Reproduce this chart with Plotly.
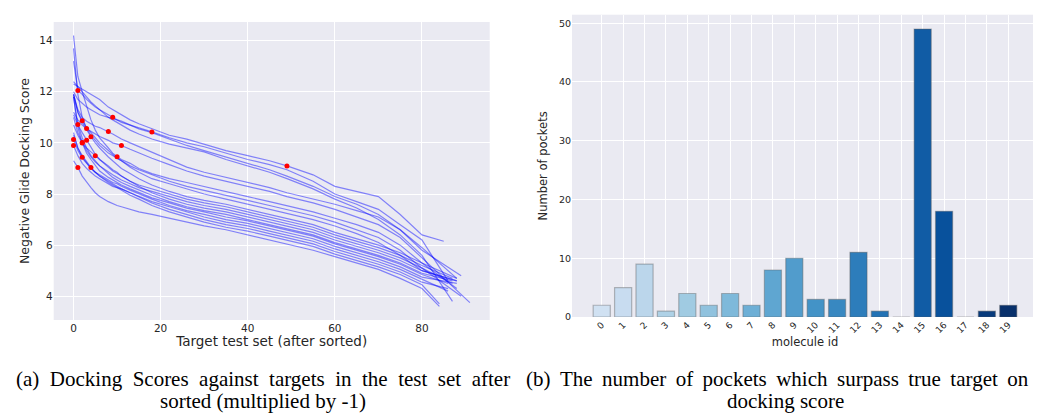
import plotly.graph_objects as go
from plotly.colors import sample_colorscale
import plotly.express as px

# ---------------- data: left panel (sorted docking scores, x -1) ----------------
grid_x = [0, 1, 2, 3, 4, 5, 6, 8, 9, 10, 11, 13, 15, 18, 22, 26, 30, 35, 40, 45, 49, 55, 60, 65, 70, 75, 80]

mol00 = [11.9, 11.2, 10.87, 10.6, 10.4, 10.2, 10.0, 9.7, 9.55, 9.4, 9.3, 9.05, 8.85, 8.6, 8.4, 8.2, 8.0, 7.8, 7.6, 7.4, 7.25, 7.0, 6.75, 6.45, 6.1, 5.6, 5.0]
mol01 = [10.7, 10.3, 10.0, 9.8, 9.65, 9.5, 9.35, 9.1, 8.95, 8.85, 8.7, 8.5, 8.3, 8.05, 7.8, 7.6, 7.45, 7.3, 7.1, 6.9, 6.75, 6.5, 6.2, 5.95, 5.7, 5.4, 5.0]
mol02 = [12.4, 12.2, 12.0, 11.8, 11.6, 11.45, 11.3, 11.1, 11.0, 10.9, 10.85, 10.7, 10.55, 10.4, 10.15, 9.9, 9.7, 9.45, 9.2, 8.95, 8.7, 8.3, 7.9, 7.6, 7.2, 6.6, 5.9]
mol03 = [13.2, 12.05, 11.9, 11.7, 11.55, 11.4, 11.3, 11.0, 10.9, 10.8, 10.7, 10.5, 10.35, 10.15, 9.95, 9.8, 9.65, 9.35, 9.1, 8.85, 8.6, 8.2, 7.8, 7.45, 7.0, 6.4, 5.6]
mol04 = [11.9, 11.2, 10.8, 10.5, 10.24, 10.0, 9.8, 9.45, 9.3, 9.15, 9.0, 8.8, 8.6, 8.35, 8.1, 7.9, 7.75, 7.6, 7.4, 7.2, 7.05, 6.8, 6.5, 6.25, 6.0, 5.7, 5.3]
mol05 = [11.0, 10.4, 10.02, 9.7, 9.45, 9.25, 9.1, 8.85, 8.75, 8.65, 8.55, 8.4, 8.25, 8.1, 7.9, 7.7, 7.55, 7.4, 7.2, 7.0, 6.85, 6.6, 6.3, 6.05, 5.8, 5.5, 5.1]
mol06 = [10.3, 9.8, 9.5, 9.25, 9.04, 8.85, 8.7, 8.45, 8.35, 8.25, 8.15, 7.95, 7.8, 7.55, 7.3, 7.1, 6.9, 6.7, 6.55, 6.35, 6.2, 5.95, 5.65, 5.4, 5.15, 4.85, 4.45]
mol07 = [11.8, 10.6, 10.0, 9.6, 9.35, 9.1, 8.9, 8.65, 8.55, 8.45, 8.35, 8.2, 8.05, 7.85, 7.65, 7.45, 7.3, 7.1, 6.95, 6.75, 6.6, 6.35, 6.05, 5.8, 5.55, 5.25, 4.85]
mol08 = [11.9, 11.3, 11.0, 10.85, 10.75, 10.65, 10.6, 10.45, 10.35, 10.25, 10.15, 10.0, 9.85, 9.65, 9.35, 9.05, 8.85, 8.65, 8.45, 8.25, 8.05, 7.8, 7.6, 7.35, 7.1, 6.6, 5.8]
mol09 = [14.2, 12.6, 12.0, 11.4, 10.9, 10.5, 10.2, 9.8, 9.6, 9.46, 9.35, 9.2, 9.0, 8.8, 8.6, 8.45, 8.3, 8.1, 7.9, 7.7, 7.55, 7.3, 7.05, 6.8, 6.5, 6.0, 5.3]
mol10 = [13.7, 11.9, 11.0, 10.56, 10.3, 10.1, 9.9, 9.6, 9.5, 9.4, 9.3, 9.1, 8.95, 8.75, 8.5, 8.3, 8.15, 7.95, 7.75, 7.55, 7.4, 7.15, 6.9, 6.6, 6.3, 5.8, 5.1]
mol11 = [11.1, 10.7, 10.4, 10.1, 9.8, 9.55, 9.35, 9.05, 8.9, 8.8, 8.7, 8.5, 8.35, 8.2, 8.0, 7.8, 7.65, 7.5, 7.3, 7.1, 6.95, 6.7, 6.4, 6.15, 5.9, 5.6, 5.2]
mol12 = [11.2, 10.9, 10.7, 10.55, 10.45, 10.35, 10.25, 10.1, 10.0, 9.95, 9.9, 9.75, 9.6, 9.4, 9.15, 8.9, 8.7, 8.5, 8.3, 8.1, 7.9, 7.65, 7.4, 7.1, 6.8, 6.3, 5.5]
mol13 = [11.8, 10.72, 10.2, 9.8, 9.5, 9.3, 9.1, 8.8, 8.65, 8.55, 8.45, 8.3, 8.15, 7.95, 7.7, 7.5, 7.35, 7.2, 7.0, 6.8, 6.65, 6.4, 6.1, 5.85, 5.6, 5.3, 4.9]
mol14 = [10.13, 9.7, 9.4, 9.2, 9.0, 8.85, 8.75, 8.55, 8.45, 8.4, 8.3, 8.15, 8.0, 7.8, 7.55, 7.35, 7.2, 7.0, 6.85, 6.65, 6.5, 6.25, 5.95, 5.7, 5.45, 5.15, 4.75]
mol15 = [12.3, 12.2, 12.1, 12.0, 11.9, 11.8, 11.7, 11.4, 11.3, 11.2, 11.1, 10.9, 10.75, 10.55, 10.3, 10.15, 9.95, 9.7, 9.5, 9.3, 9.1, 8.75, 8.3, 8.1, 7.9, 7.2, 6.4]
mol16 = [12.0, 11.7, 11.55, 11.4, 11.3, 11.2, 11.1, 11.0, 10.95, 10.9, 10.8, 10.7, 10.6, 10.43, 10.2, 10.0, 9.85, 9.6, 9.35, 9.15, 8.95, 8.5, 8.0, 7.7, 7.4, 6.8, 6.2]
mol17 = [9.9, 9.5, 9.2, 9.0, 8.85, 8.7, 8.6, 8.4, 8.3, 8.25, 8.2, 8.05, 7.9, 7.65, 7.4, 7.2, 7.0, 6.8, 6.65, 6.45, 6.3, 6.05, 5.75, 5.5, 5.25, 4.95, 4.55]
mol18 = [9.3, 9.04, 8.7, 8.45, 8.25, 8.05, 7.9, 7.7, 7.62, 7.55, 7.5, 7.4, 7.3, 7.2, 7.05, 6.9, 6.75, 6.6, 6.4, 6.2, 6.05, 5.8, 5.55, 5.3, 5.05, 4.7, 4.3]
mol19 = [10.4, 9.8, 9.44, 9.2, 9.0, 8.85, 8.7, 8.5, 8.4, 8.3, 8.2, 8.05, 7.9, 7.7, 7.5, 7.3, 7.1, 6.9, 6.75, 6.55, 6.4, 6.15, 5.85, 5.6, 5.35, 5.05, 4.65]

end_x = [88, 88, 88, 87, 88, 89, 84, 86, 89, 88, 87, 87, 91, 87, 88, 85, 86, 86, 84, 86]
end_y = [4.6, 4.6, 4.7, 3.8, 4.7, 4.0, 3.7, 4.5, 4.8, 4.3, 4.5, 4.7, 3.75, 4.6, 4.5, 6.15, 4.6, 4.3, 3.6, 4.2]

# ---------------- data: right panel ----------------
molecule_ids = list(range(20))
pockets = [2, 5, 9, 1, 4, 2, 4, 2, 8, 10, 3, 3, 11, 1, 0, 49, 18, 0, 1, 2]

caption_lines = [
    ("(a)\u2002Docking\u2002Scores\u2002against\u2002targets\u2002in\u2002the\u2002test\u2002set\u2002after", 255, 371),
    ("sorted (multiplied by -1)", 255, 393),
    ("(b) \u2009The \u2009number \u2009of \u2009pockets \u2009which \u2009surpass \u2009true \u2009target \u2009on", 769, 371),
    ("docking score", 777, 393),
]

lines = [mol00, mol01, mol02, mol03, mol04, mol05, mol06, mol07, mol08, mol09,
         mol10, mol11, mol12, mol13, mol14, mol15, mol16, mol17, mol18, mol19]

TXT = "#262626"
FONT = "DejaVu Sans"
W, H = 1041, 419

fig = go.Figure()

for i, ys in enumerate(lines):
    fig.add_trace(go.Scatter(
        x=grid_x + [end_x[i]], y=ys + [end_y[i]], mode="lines",
        line=dict(color="rgba(0,0,255,0.45)", width=1.2),
        xaxis="x", yaxis="y", showlegend=False, hoverinfo="skip"))

# red dots: rank of the true target (= pocket count) on each curve
dot_x = pockets
dot_y = [lines[i][grid_x.index(p)] for i, p in enumerate(pockets)]
fig.add_trace(go.Scatter(
    x=dot_x, y=dot_y, mode="markers",
    marker=dict(color="red", size=5, line=dict(width=0)),
    xaxis="x", yaxis="y", showlegend=False))

ts = [0.2 + 0.8 * i / 19 for i in molecule_ids]
bar_colors = sample_colorscale(px.colors.sequential.Blues, ts)
fig.add_trace(go.Bar(
    x=molecule_ids, y=pockets, width=0.8,
    marker=dict(color=bar_colors, line=dict(color="rgba(90,90,90,0.4)", width=1.2)),
    xaxis="x2", yaxis="y2", showlegend=False))

def px2x(p):
    return p / W

def px2y(p):
    return 1 - p / H

axis_common = dict(showline=False, zeroline=False, ticks="", gridcolor="white", gridwidth=1.3,
                   automargin=False, tickfont=dict(family=FONT, size=10.5, color=TXT))

fig.update_layout(
    width=W, height=H, autosize=False,
    margin=dict(l=0, r=0, t=0, b=0),
    paper_bgcolor="white", plot_bgcolor="#EAEAF2",
    font=dict(family=FONT, color=TXT),
    xaxis=dict(domain=[px2x(45.7), px2x(481.7)], range=[-4.55, 95.55],
               tickvals=[0, 20, 40, 60, 80], anchor="y",
               title=dict(text="Target test set (after sorted)", font=dict(family=FONT, size=13.5, color=TXT), standoff=4),
               **axis_common),
    yaxis=dict(domain=[px2y(312), px2y(14)], range=[3.07, 14.73],
               tickvals=[4, 6, 8, 10, 12, 14], anchor="x",
               title=dict(text="Negative Glide Docking Score", font=dict(family=FONT, size=12.5, color=TXT), standoff=6),
               **axis_common),
    xaxis2=dict(domain=[px2x(564), px2x(1030)], range=[-1.39, 20.39],
                tickvals=molecule_ids, ticktext=[str(m) for m in molecule_ids], tickangle=-45,
                anchor="y2",
                title=dict(text="molecule id", font=dict(family=FONT, size=11.5, color=TXT), standoff=2),
                **{**axis_common, "tickfont": dict(family=FONT, size=9, color=TXT)}),
    yaxis2=dict(domain=[px2y(309), px2y(6.7)], range=[0, 51.45],
                tickvals=[0, 10, 20, 30, 40, 50], anchor="x2",
                title=dict(text="Number of pockets", font=dict(family=FONT, size=11.5, color=TXT), standoff=8),
                **{**axis_common, "tickfont": dict(family=FONT, size=9.5, color=TXT)}),
)

for txt, cx, cy in caption_lines:
    fig.add_annotation(
        x=px2x(cx), y=px2y(cy), xref="paper", yref="paper",
        text=txt, showarrow=False, align="center",
        xanchor="center", yanchor="middle",
        font=dict(family="Liberation Serif", size=21, color="black"))

fig.write_html("out.html")
